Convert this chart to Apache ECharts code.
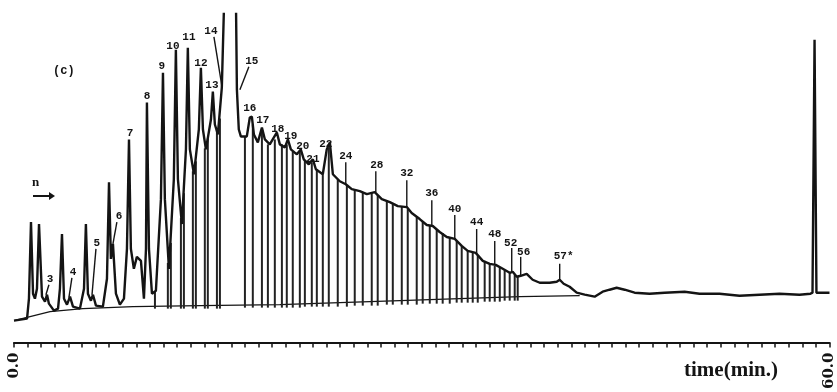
<!DOCTYPE html>
<html>
<head>
<meta charset="utf-8">
<script src="https://cdn.jsdelivr.net/npm/echarts@6/dist/echarts.min.js"></script>
<style>
  html, body { margin: 0; padding: 0; background: #fff; }
  #chart { width: 837px; height: 392px; }
</style>
</head>
<body>
<div id="chart"></div>
<script>
// Recorded detector trace: retention time (min) and response
const traceTime = [0.00,0.96,1.10,1.25,1.40,1.54,1.69,1.84,2.06,2.28,
  2.43,2.57,2.94,3.24,3.38,3.53,3.68,3.90,4.12,4.34,
  4.85,5.15,5.29,5.44,5.66,5.81,6.03,6.54,6.84,6.99,
  7.13,7.28,7.50,7.79,8.09,8.31,8.46,8.60,8.82,9.04,
  9.34,9.56,9.71,9.78,9.93,10.15,10.44,10.81,10.96,11.10,
  11.40,11.76,11.91,12.06,12.35,12.65,12.79,12.94,13.24,13.60,
  13.75,13.90,14.12,14.49,14.63,14.78,15.00,15.29,15.66,16.25,
  16.40,16.54,16.69,17.13,17.35,17.50,17.65,17.94,18.24,18.46,
  18.82,19.34,19.56,19.93,20.15,20.37,20.81,21.10,21.32,21.69,
  21.99,22.21,22.72,23.01,23.24,23.46,23.97,24.41,24.85,25.44,
  25.96,26.54,27.06,27.65,28.24,28.90,29.26,29.85,30.37,30.81,
  31.32,31.84,32.43,32.94,33.38,33.97,34.49,35.00,35.44,35.96,
  36.47,36.69,36.99,37.28,37.72,38.16,38.68,39.41,39.93,40.15,
  40.44,40.88,41.40,41.99,42.72,43.31,43.82,44.34,44.93,45.66,
  46.76,47.87,49.34,50.44,51.91,53.38,54.85,56.32,57.79,58.60,
  58.75,58.90,59.04,59.19,60.00];
const traceSignal = [22,24,44,121,49,44,54,119,46,41,
  48,39,32,34,54,109,44,38,46,36,
  34,54,119,49,42,48,37,36,64,161,
  84,99,49,38,44,94,204,94,74,86,
  82,44,94,241,94,49,52,144,271,144,
  74,164,294,164,119,194,296,194,169,214,
  276,214,194,224,252,219,209,256,444,444,
  254,214,207,207,226,227,209,201,216,204,
  199,211,199,196,204,194,189,194,184,179,
  184,174,169,194,201,169,162,159,154,152,
  149,151,144,141,137,136,130,124,118,117,
  111,106,104,97,92,90,82,79,78,74,
  70,71,66,67,69,63,60,60,61,63,
  59,56,50,48,46,51,53,55,53,50,
  49,50,51,49,49,47,48,49,48,49,
  50,304,50,50,50];

// Integrator baseline
const baseTime = [0.00,1.18,2.65,5.07,8.75,13.68,19.56,26.18,37.21,41.62];
const baseSignal = [22,26,31,34,36,37,38,41,46,47];

// Integrator drop lines: time, top on the trace, foot at the baseline
const dropTime = [10.37,11.32,11.54,12.28,12.50,13.16,13.38,14.04,14.26,14.93,15.15,
  16.99,17.57,18.24,18.68,19.19,19.71,20.07,20.51,21.03,21.40,
  21.91,22.28,22.72,23.16,23.82,24.49,25.07,25.66,26.32,26.76,
  27.43,27.87,28.53,28.97,29.63,30.07,30.59,31.10,31.54,32.06,
  32.57,32.94,33.38,33.75,34.12,34.63,35.00,35.37,35.74,36.10,
  36.47,36.84,37.06];
const dropTop = [52,80,100,125,150,172,182,195,205,215,225,
  207,219,214,199,204,199,199,192,192,183,
  181,174,169,196,164,158,154,151,150,148,
  142,139,137,134,126,122,118,114,110,106,
  102,97,92,90,87,82,79,77,75,73,
  70,68,66];
const dropFoot = [34,34,34,34,34,34,34,34,34,34,34,
  35,35,35,35,35,35,35,35,35,36,
  36,36,36,36,36,36,37,37,37,37,
  38,38,38,38,38,39,39,39,39,39,
  40,40,40,40,40,41,41,41,41,42,
  42,42,42];

// Peak identification (carbon number) and where each name sits
const peakNames = ['3','4','5','6','7','8','9','10','11','12',
  '13','14','15','16','17','18','19','20','21','22',
  '24','28','32','36','40','44','48','52','56','57*'];
const peakNameTime = [2.65,4.34,6.10,7.72,8.53,9.78,10.88,11.69,12.87,13.75,
  14.56,14.49,17.50,17.35,18.31,19.41,20.37,21.25,21.99,22.94,
  24.41,26.69,28.90,30.74,32.43,34.04,35.37,36.54,37.50,40.44];
const peakNameSignal = [64,71,100,127,210,247,278,298,307,281,
  258,313,283,235,223,214,207,197,184,199,
  187,178,170,150,134,121,109,100,91,87];

// Leader lines from a name down to its peak
const leaderTimeA = [2.35,4.04,5.74,7.28,14.71,17.28,24.41,26.62,28.90,30.74,32.43,34.04,35.37,36.62,37.28,40.15];
const leaderSignalA = [48,45,48,99,307,277,181,172,163,143,128,114,102,95,86,79];
const leaderTimeB = [2.57,4.26,6.03,7.57,15.29,16.62,24.41,26.62,28.90,30.74,32.43,34.04,35.37,36.62,37.28,40.15];
const leaderSignalB = [58,65,94,121,258,254,159,151,136,117,104,89,78,71,67,63];

// Time axis end labels
const timeAxisMin = 0;
const timeAxisMax = 60;
const timeAxisLabels = [0, 60];

const ink = '#141414';
const chart = echarts.init(document.getElementById('chart'));

chart.setOption({
  animation: false,
  backgroundColor: '#fff',
  grid: { left: 14, right: 7, top: 14, bottom: 46 },
  xAxis: {
    type: 'value',
    min: timeAxisMin,
    max: timeAxisMax,
    interval: 1,
    splitLine: { show: false },
    axisLine: { lineStyle: { color: ink, width: 2 } },
    axisTick: { show: true, inside: false, length: 5, lineStyle: { color: ink, width: 1.5 } },
    axisLabel: {
      rotate: 90,
      margin: 8,
      color: ink,
      fontFamily: 'DejaVu Serif',
      fontWeight: 'bold',
      fontSize: 15,
      showMinLabel: true,
      showMaxLabel: true,
      formatter: v => timeAxisLabels.includes(v) ? v.toFixed(1) : ''
    }
  },
  yAxis: { type: 'value', min: -2, max: 330, show: false },
  graphic: [
    { type: 'text', left: 53, top: 65,
      style: { text: '(c)', font: 'bold 12px "Liberation Mono"', fill: ink } },
    { type: 'text', left: 32, top: 176,
      style: { text: 'n', font: 'bold 13px "Liberation Serif"', fill: ink } },
    { type: 'line', shape: { x1: 33, y1: 196, x2: 50, y2: 196 },
      style: { stroke: ink, lineWidth: 2 } },
    { type: 'polygon', shape: { points: [[49, 192], [55, 196], [49, 200]] },
      style: { fill: ink } },
    { type: 'text', left: 684, top: 360,
      style: { text: 'time(min.)', font: 'bold 21px "Liberation Serif"', fill: ink } }
  ],
  series: [
    {
      name: 'baseline',
      type: 'line',
      data: baseTime.map((t, i) => [t, baseSignal[i]]),
      showSymbol: false,
      lineStyle: { color: ink, width: 1.2 },
      z: 2
    },
    {
      name: 'drop lines',
      type: 'custom',
      data: dropTime.map((t, i) => [t, dropFoot[i], dropTop[i]]),
      encode: { x: 0, y: [1, 2] },
      renderItem: (params, api) => {
        const a = api.coord([api.value(0), api.value(1)]);
        const b = api.coord([api.value(0), api.value(2)]);
        return { type: 'line', shape: { x1: a[0], y1: a[1], x2: b[0], y2: b[1] },
                 style: { stroke: '#222', lineWidth: 2 } };
      },
      z: 3
    },
    {
      name: 'trace',
      type: 'line',
      data: traceTime.map((t, i) => [t, traceSignal[i]]),
      showSymbol: false,
      clip: true,
      lineStyle: { color: ink, width: 2.4 },
      z: 4
    },
    {
      name: 'leaders',
      type: 'custom',
      data: leaderTimeA.map((t, i) => [t, leaderSignalA[i], leaderTimeB[i], leaderSignalB[i]]),
      encode: { x: [0, 2], y: [1, 3] },
      renderItem: (params, api) => {
        const a = api.coord([api.value(0), api.value(1)]);
        const b = api.coord([api.value(2), api.value(3)]);
        return { type: 'line', shape: { x1: a[0], y1: a[1], x2: b[0], y2: b[1] },
                 style: { stroke: ink, lineWidth: 1.4 } };
      },
      z: 5
    },
    {
      name: 'peak names',
      type: 'custom',
      data: peakNameTime.map((t, i) => [t, peakNameSignal[i]]),
      encode: { x: 0, y: 1 },
      renderItem: (params, api) => {
        const p = api.coord([api.value(0), api.value(1)]);
        return { type: 'text', x: p[0], y: p[1],
                 style: { text: peakNames[params.dataIndex], align: 'center', verticalAlign: 'middle',
                          font: 'bold 11px "Liberation Mono"', fill: ink } };
      },
      z: 6
    }
  ]
});
</script>
</body>
</html>
